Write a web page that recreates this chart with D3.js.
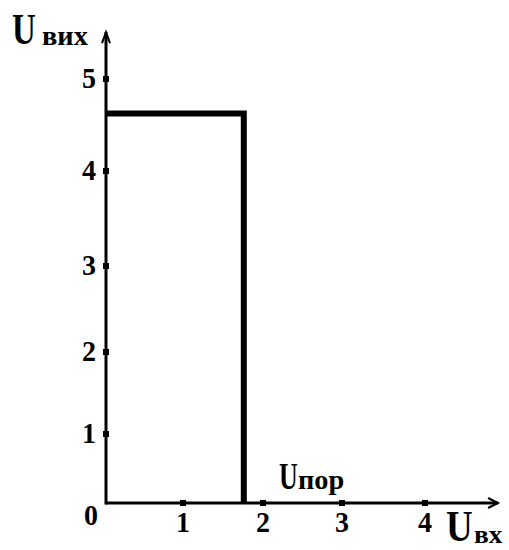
<!DOCTYPE html>
<html>
<head>
<meta charset="utf-8">
<script src="https://cdn.jsdelivr.net/npm/d3@7"></script>
<style>
  html, body { margin: 0; padding: 0; background: #fff; }
  svg { display: block; }
  text { font-family: "Liberation Serif", "Times New Roman", serif; font-weight: bold; fill: #000; }
</style>
</head>
<body>
<svg id="chart" width="509" height="550"></svg>
<script>
// ---- data ----
const xTicks = [1, 2, 3, 4];
const yTicks = [1, 2, 3, 4, 5];
const xTickPos = [0, 1, 2, 3, 4];          // hand-drawn tick grid (domain stops)
const yTickPos = [0, 1, 2, 3, 4, 5];
const xAxisMax = 4.88;
const yAxisMax = 5.51;
const outputX = [0, 1.76, 1.76];           // U_вх
const outputY = [4.625, 4.625, 0];         // U_вих
const thresholdLabel = "пор";

// ---- scales (piecewise, following the hand-drawn tick spacing) ----
const x = d3.scaleLinear().domain(xTickPos).range([106, 183, 263, 342, 425]);
const y = d3.scaleLinear().domain(yTickPos).range([503, 434, 352, 266, 171, 79]);

const svg = d3.select("#chart");

// axes lines
svg.append("line")
  .attr("x1", x(0)).attr("y1", y(0)).attr("x2", x(xAxisMax)).attr("y2", y(0))
  .attr("stroke", "#000").attr("stroke-width", 3);
svg.append("line")
  .attr("x1", x(0)).attr("y1", y(0) + 1.5).attr("x2", x(0)).attr("y2", y(yAxisMax))
  .attr("stroke", "#000").attr("stroke-width", 3);

// arrow heads
const xt = x(xAxisMax), yt0 = y(0);
svg.append("path")
  .attr("d", `M${xt - 10},${yt0 - 5} L${xt},${yt0} L${xt - 10},${yt0 + 5}`)
  .attr("fill", "none").attr("stroke", "#000").attr("stroke-width", 2);
const yx = x(0), yt = y(yAxisMax);
svg.append("path")
  .attr("d", `M${yx - 4},${yt + 11} L${yx},${yt} L${yx + 4},${yt + 11}`)
  .attr("fill", "none").attr("stroke", "#000").attr("stroke-width", 2);

// tick marks (small squares)
svg.selectAll(".xtick").data(xTicks).enter().append("rect")
  .attr("x", d => x(d) - 3).attr("y", y(0) - 3).attr("width", 6).attr("height", 6).attr("fill", "#000");
svg.selectAll(".ytick").data(yTicks).enter().append("rect")
  .attr("x", x(0) - 3).attr("y", d => y(d) - 3).attr("width", 6).attr("height", 6).attr("fill", "#000");

// tick labels
function stretched(xp, yp, sx, sy) {
  return svg.append("g").attr("transform", `translate(${xp},${yp}) scale(${sx},${sy})`);
}
xTicks.forEach(d => {
  stretched(x(d), 532, 1, 1.05).append("text")
    .attr("text-anchor", "middle").attr("font-size", 28).text(d);
});
yTicks.forEach(d => {
  stretched(96, y(d) + 9, 1, 1.05).append("text")
    .attr("text-anchor", "end").attr("font-size", 28).text(d);
});
stretched(91, 525, 1, 1.05).append("text")
  .attr("text-anchor", "middle").attr("font-size", 28).text("0");

// output characteristic
const line = d3.line().x(d => x(d[0])).y(d => y(d[1]));
svg.append("path")
  .datum(outputX.map((v, i) => [v, outputY[i]]))
  .attr("d", line)
  .attr("fill", "none").attr("stroke", "#000").attr("stroke-width", 6)
  .attr("stroke-linejoin", "miter");

// axis titles: big stretched "U" + subscript
function uLabel(ux, uy, uSize, uSy, sub, sx, sy, sSize) {
  stretched(ux, uy, 1, uSy).append("text").attr("font-size", uSize).text("U");
  stretched(sx, sy, 1.05, 1).append("text").attr("font-size", sSize).text(sub);
}
uLabel(12, 44, 33, 1.33, "вих", 42, 45, 27);
uLabel(279, 489, 26, 1.45, thresholdLabel, 298, 489, 27);
uLabel(446, 541, 37, 1.2, "вх", 474, 543, 26);
</script>
</body>
</html>
